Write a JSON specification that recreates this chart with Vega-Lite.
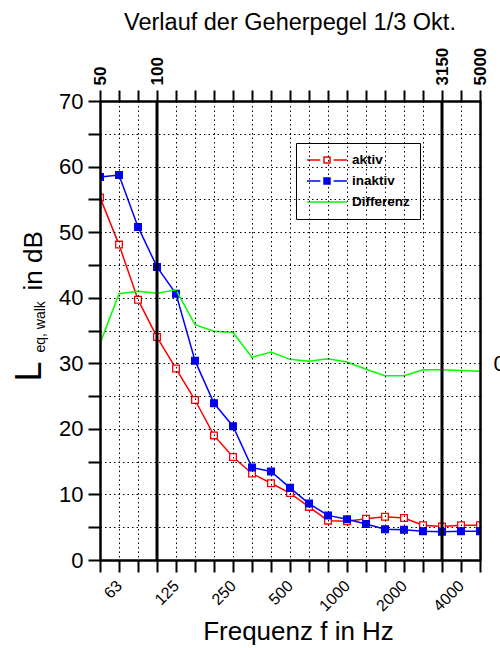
{
  "$schema": "https://vega.github.io/schema/vega-lite/v6.json",
  "width": 380,
  "height": 459,
  "autosize": {"type": "none"},
  "padding": {"left": 100, "top": 101, "right": 20, "bottom": 88},
  "background": "white",
  "title": {"text": "Verlauf der Geherpegel 1/3 Okt.", "fontSize": 23.5, "font": "Liberation Sans", "fontWeight": "normal", "color": "black", "anchor": "middle", "offset": 13},
  "config": {
    "font": "Liberation Sans",
    "view": {"stroke": null},
    "axis": {"labelFont": "Liberation Sans", "titleFont": "Liberation Sans", "labelColor": "black", "titleColor": "black", "titleFontWeight": "normal", "domainColor": "black", "tickColor": "black", "domainWidth": 2.5, "tickWidth": 2}
  },
  "datasets": {
    "levels": [
      {"f": 50, "serie": "aktiv", "L": 55.3}, {"f": 63, "serie": "aktiv", "L": 48.1}, {"f": 80, "serie": "aktiv", "L": 39.7},
      {"f": 100, "serie": "aktiv", "L": 34.0}, {"f": 125, "serie": "aktiv", "L": 29.2}, {"f": 160, "serie": "aktiv", "L": 24.4},
      {"f": 200, "serie": "aktiv", "L": 19.0}, {"f": 250, "serie": "aktiv", "L": 15.7}, {"f": 315, "serie": "aktiv", "L": 13.2},
      {"f": 400, "serie": "aktiv", "L": 11.7}, {"f": 500, "serie": "aktiv", "L": 10.2}, {"f": 630, "serie": "aktiv", "L": 8.1},
      {"f": 800, "serie": "aktiv", "L": 6.0}, {"f": 1000, "serie": "aktiv", "L": 5.9}, {"f": 1250, "serie": "aktiv", "L": 6.3},
      {"f": 1600, "serie": "aktiv", "L": 6.6}, {"f": 2000, "serie": "aktiv", "L": 6.4}, {"f": 2500, "serie": "aktiv", "L": 5.3},
      {"f": 3150, "serie": "aktiv", "L": 5.1}, {"f": 4000, "serie": "aktiv", "L": 5.3}, {"f": 5000, "serie": "aktiv", "L": 5.3},
      {"f": 50, "serie": "inaktiv", "L": 58.4}, {"f": 63, "serie": "inaktiv", "L": 58.7}, {"f": 80, "serie": "inaktiv", "L": 50.8},
      {"f": 100, "serie": "inaktiv", "L": 44.7}, {"f": 125, "serie": "inaktiv", "L": 40.6}, {"f": 160, "serie": "inaktiv", "L": 30.4},
      {"f": 200, "serie": "inaktiv", "L": 23.9}, {"f": 250, "serie": "inaktiv", "L": 20.4}, {"f": 315, "serie": "inaktiv", "L": 14.1},
      {"f": 400, "serie": "inaktiv", "L": 13.5}, {"f": 500, "serie": "inaktiv", "L": 11.0}, {"f": 630, "serie": "inaktiv", "L": 8.6},
      {"f": 800, "serie": "inaktiv", "L": 6.8}, {"f": 1000, "serie": "inaktiv", "L": 6.2}, {"f": 1250, "serie": "inaktiv", "L": 5.5},
      {"f": 1600, "serie": "inaktiv", "L": 4.7}, {"f": 2000, "serie": "inaktiv", "L": 4.6}, {"f": 2500, "serie": "inaktiv", "L": 4.4},
      {"f": 3150, "serie": "inaktiv", "L": 4.3}, {"f": 4000, "serie": "inaktiv", "L": 4.4}, {"f": 5000, "serie": "inaktiv", "L": 4.4}
    ],
    "diff": [
      {"f": 50, "serie": "Differenz", "D": 3.0}, {"f": 63, "serie": "Differenz", "D": 10.6}, {"f": 80, "serie": "Differenz", "D": 11.0},
      {"f": 100, "serie": "Differenz", "D": 10.7}, {"f": 125, "serie": "Differenz", "D": 11.2}, {"f": 160, "serie": "Differenz", "D": 5.9},
      {"f": 200, "serie": "Differenz", "D": 4.9}, {"f": 250, "serie": "Differenz", "D": 4.7}, {"f": 315, "serie": "Differenz", "D": 0.9},
      {"f": 400, "serie": "Differenz", "D": 1.7}, {"f": 500, "serie": "Differenz", "D": 0.6}, {"f": 630, "serie": "Differenz", "D": 0.3},
      {"f": 800, "serie": "Differenz", "D": 0.7}, {"f": 1000, "serie": "Differenz", "D": 0.2}, {"f": 1250, "serie": "Differenz", "D": -0.9},
      {"f": 1600, "serie": "Differenz", "D": -1.9}, {"f": 2000, "serie": "Differenz", "D": -1.9}, {"f": 2500, "serie": "Differenz", "D": -1.0},
      {"f": 3150, "serie": "Differenz", "D": -1.0}, {"f": 4000, "serie": "Differenz", "D": -1.1}, {"f": 5000, "serie": "Differenz", "D": -1.2}
    ],
    "vlines": [{"f": 100}, {"f": 3150}]
  },
  "resolve": {"scale": {"x": "independent", "y": "independent"}},
  "layer": [
    {
      "data": {"name": "levels"},
      "mark": {"type": "line", "strokeWidth": 1.5, "clip": true},
      "encoding": {
        "x": {
          "field": "f", "type": "ordinal",
          "scale": {"type": "point", "padding": 0, "domain": [50, 63, 80, 100, 125, 160, 200, 250, 315, 400, 500, 630, 800, 1000, 1250, 1600, 2000, 2500, 3150, 4000, 5000]},
          "axis": {
            "orient": "bottom", "zindex": 1,
            "title": "Frequenz f in Hz", "titleFontSize": 26, "titleX": 198, "titleY": 79, "titleBaseline": "alphabetic", "titleAlign": "center",
            "labelExpr": "indexof([63,125,250,500,1000,2000,4000], datum.value) >= 0 ? datum.label : ''",
            "labelAngle": -45, "labelAlign": "right", "labelBaseline": "middle", "labelPadding": 11, "labelFontSize": 16, "labelOverlap": false,
            "tickSize": 12,
            "grid": true, "gridColor": "black", "gridDash": [1.5, 3], "gridWidth": 1, "gridOpacity": 1,
            "encode": {
              "ticks": {"update": {"y2": {"signal": "indexof([63,125,250,500,1000,2000,4000], datum.value) >= 0 ? 12 : 6"}}},
              "grid": {"update": {"strokeOpacity": {"signal": "indexof([63,125,250,500,1000,2000,4000], datum.value) >= 0 ? 1 : 0"}}}
            }
          }
        },
        "y": {
          "field": "L", "type": "quantitative",
          "scale": {"domain": [0, 70], "nice": false, "zero": false},
          "axis": {
            "orient": "left", "zindex": 1,
            "values": [0, 5, 10, 15, 20, 25, 30, 35, 40, 45, 50, 55, 60, 65, 70],
            "labelExpr": "datum.value % 10 === 0 ? datum.label : ''",
            "labelFontSize": 22, "labelPadding": 5, "tickSize": 12, "labelOverlap": false,
            "grid": true, "gridColor": "black", "gridDash": [1.5, 3], "gridWidth": 1, "gridOpacity": 1,
            "title": "L", "titleFontSize": 36, "titleAngle": 270, "titleX": -60, "titleY": 280, "titleAlign": "left", "titleBaseline": "alphabetic",
            "encode": {
              "ticks": {"update": {"x2": {"signal": "datum.value % 10 === 0 ? -12 : -5"}}},
              "grid": {"update": {"strokeOpacity": {"signal": "(datum.value % 10 === 0 && datum.value > 0 && datum.value < 70) ? 1 : 0"}}}
            }
          }
        },
        "color": {
          "field": "serie", "type": "nominal",
          "scale": {"domain": ["aktiv", "inaktiv", "Differenz"], "range": ["#ff0000", "#0000ff", "#00ff00"]},
          "legend": {
            "orient": "none", "legendX": 196, "legendY": 42, "title": null,
            "padding": 10, "rowPadding": 7, "labelOffset": 18, "symbolOffset": 14,
            "labelFont": "Liberation Sans", "labelFontSize": 13.5, "labelFontWeight": "bold", "labelColor": "black",
            "symbolSize": 144, "symbolStrokeWidth": 1.5,
            "strokeColor": "black", "fillColor": "white",
            "encode": {
              "symbols": {"update": {
                "shape": {"signal": "datum.value === 'Differenz' ? 'M-3.33,0H3.33' : 'M-3.33,0H-1.1M1.1,0H3.33M-0.5,-0.5H0.5V0.5H-0.5Z'"},
                "fill": {"signal": "datum.value === 'inaktiv' ? '#0000ff' : '#ffffff'"},
                "stroke": {"signal": "datum.value === 'aktiv' ? '#ff0000' : (datum.value === 'inaktiv' ? '#0000ff' : '#00ff00')"},
                "strokeWidth": {"value": 1.5},
                "size": {"value": 144},
                "opacity": {"value": 1}
              }}
            }
          }
        }
      }
    },
    {
      "data": {"name": "levels"},
      "mark": {"type": "point", "shape": "square", "size": 45, "strokeWidth": 1.3, "opacity": 1, "fillOpacity": 1, "clip": true},
      "encoding": {
        "x": {"field": "f", "type": "ordinal", "scale": {"type": "point", "padding": 0, "domain": [50, 63, 80, 100, 125, 160, 200, 250, 315, 400, 500, 630, 800, 1000, 1250, 1600, 2000, 2500, 3150, 4000, 5000]}, "axis": null},
        "y": {"field": "L", "type": "quantitative", "scale": {"domain": [0, 70], "nice": false, "zero": false}, "axis": null},
        "stroke": {"field": "serie", "type": "nominal", "scale": {"domain": ["aktiv", "inaktiv"], "range": ["#ff0000", "#0000ff"]}, "legend": null},
        "fill": {"field": "serie", "type": "nominal", "scale": {"domain": ["aktiv", "inaktiv"], "range": ["#ffffff", "#0000ff"]}, "legend": null}
      }
    },
    {
      "data": {"name": "diff"},
      "mark": {"type": "line", "strokeWidth": 1.5, "clip": true},
      "encoding": {
        "x": {
          "field": "f", "type": "ordinal",
          "scale": {"type": "point", "padding": 0, "domain": [50, 63, 80, 100, 125, 160, 200, 250, 315, 400, 500, 630, 800, 1000, 1250, 1600, 2000, 2500, 3150, 4000, 5000]},
          "axis": {
            "orient": "top", "zindex": 1, "grid": false,
            "labelExpr": "indexof([50,100,3150,5000], datum.value) >= 0 ? datum.label : ''",
            "labelAngle": -90, "labelAlign": "left", "labelBaseline": "middle", "labelFontSize": 17, "labelFontWeight": "bold", "labelPadding": 5, "labelOverlap": false,
            "tickSize": 11,
            "title": "in dB", "titleFontSize": 26, "titleAngle": 270, "titleX": -59, "titleY": 189, "titleAlign": "left", "titleBaseline": "alphabetic"
          }
        },
        "y": {
          "field": "D", "type": "quantitative",
          "scale": {"domain": [-30, 40], "nice": false, "zero": false},
          "axis": {
            "orient": "right", "zindex": 1, "grid": false, "title": null,
            "values": [-30, -25, -20, -15, -10, -5, 0, 5, 10, 15, 20, 25, 30, 35, 40],
            "labelExpr": "datum.value === 0 ? '0' : ''",
            "labelFontSize": 22, "labelPadding": 12, "tickSize": 1, "labelOverlap": false,
            "encode": {"ticks": {"update": {"x2": {"signal": "datum.value === 0 ? -10 : -4"}}}}
          }
        },
        "color": {"field": "serie", "type": "nominal", "scale": {"domain": ["aktiv", "inaktiv", "Differenz"], "range": ["#ff0000", "#0000ff", "#00ff00"]}}
      }
    },
    {
      "data": {"name": "vlines"},
      "mark": {"type": "rule", "strokeWidth": 3, "color": "black"},
      "encoding": {
        "x": {
          "field": "f", "type": "ordinal",
          "scale": {"type": "point", "padding": 0, "domain": [50, 63, 80, 100, 125, 160, 200, 250, 315, 400, 500, 630, 800, 1000, 1250, 1600, 2000, 2500, 3150, 4000, 5000]},
          "axis": {
            "orient": "bottom", "domain": false, "ticks": false, "labels": false, "grid": false,
            "title": "eq, walk", "titleFontSize": 14, "titleAngle": 270, "titleX": -56, "titleY": -208, "titleAlign": "left", "titleBaseline": "alphabetic"
          }
        }
      }
    }
  ]
}
